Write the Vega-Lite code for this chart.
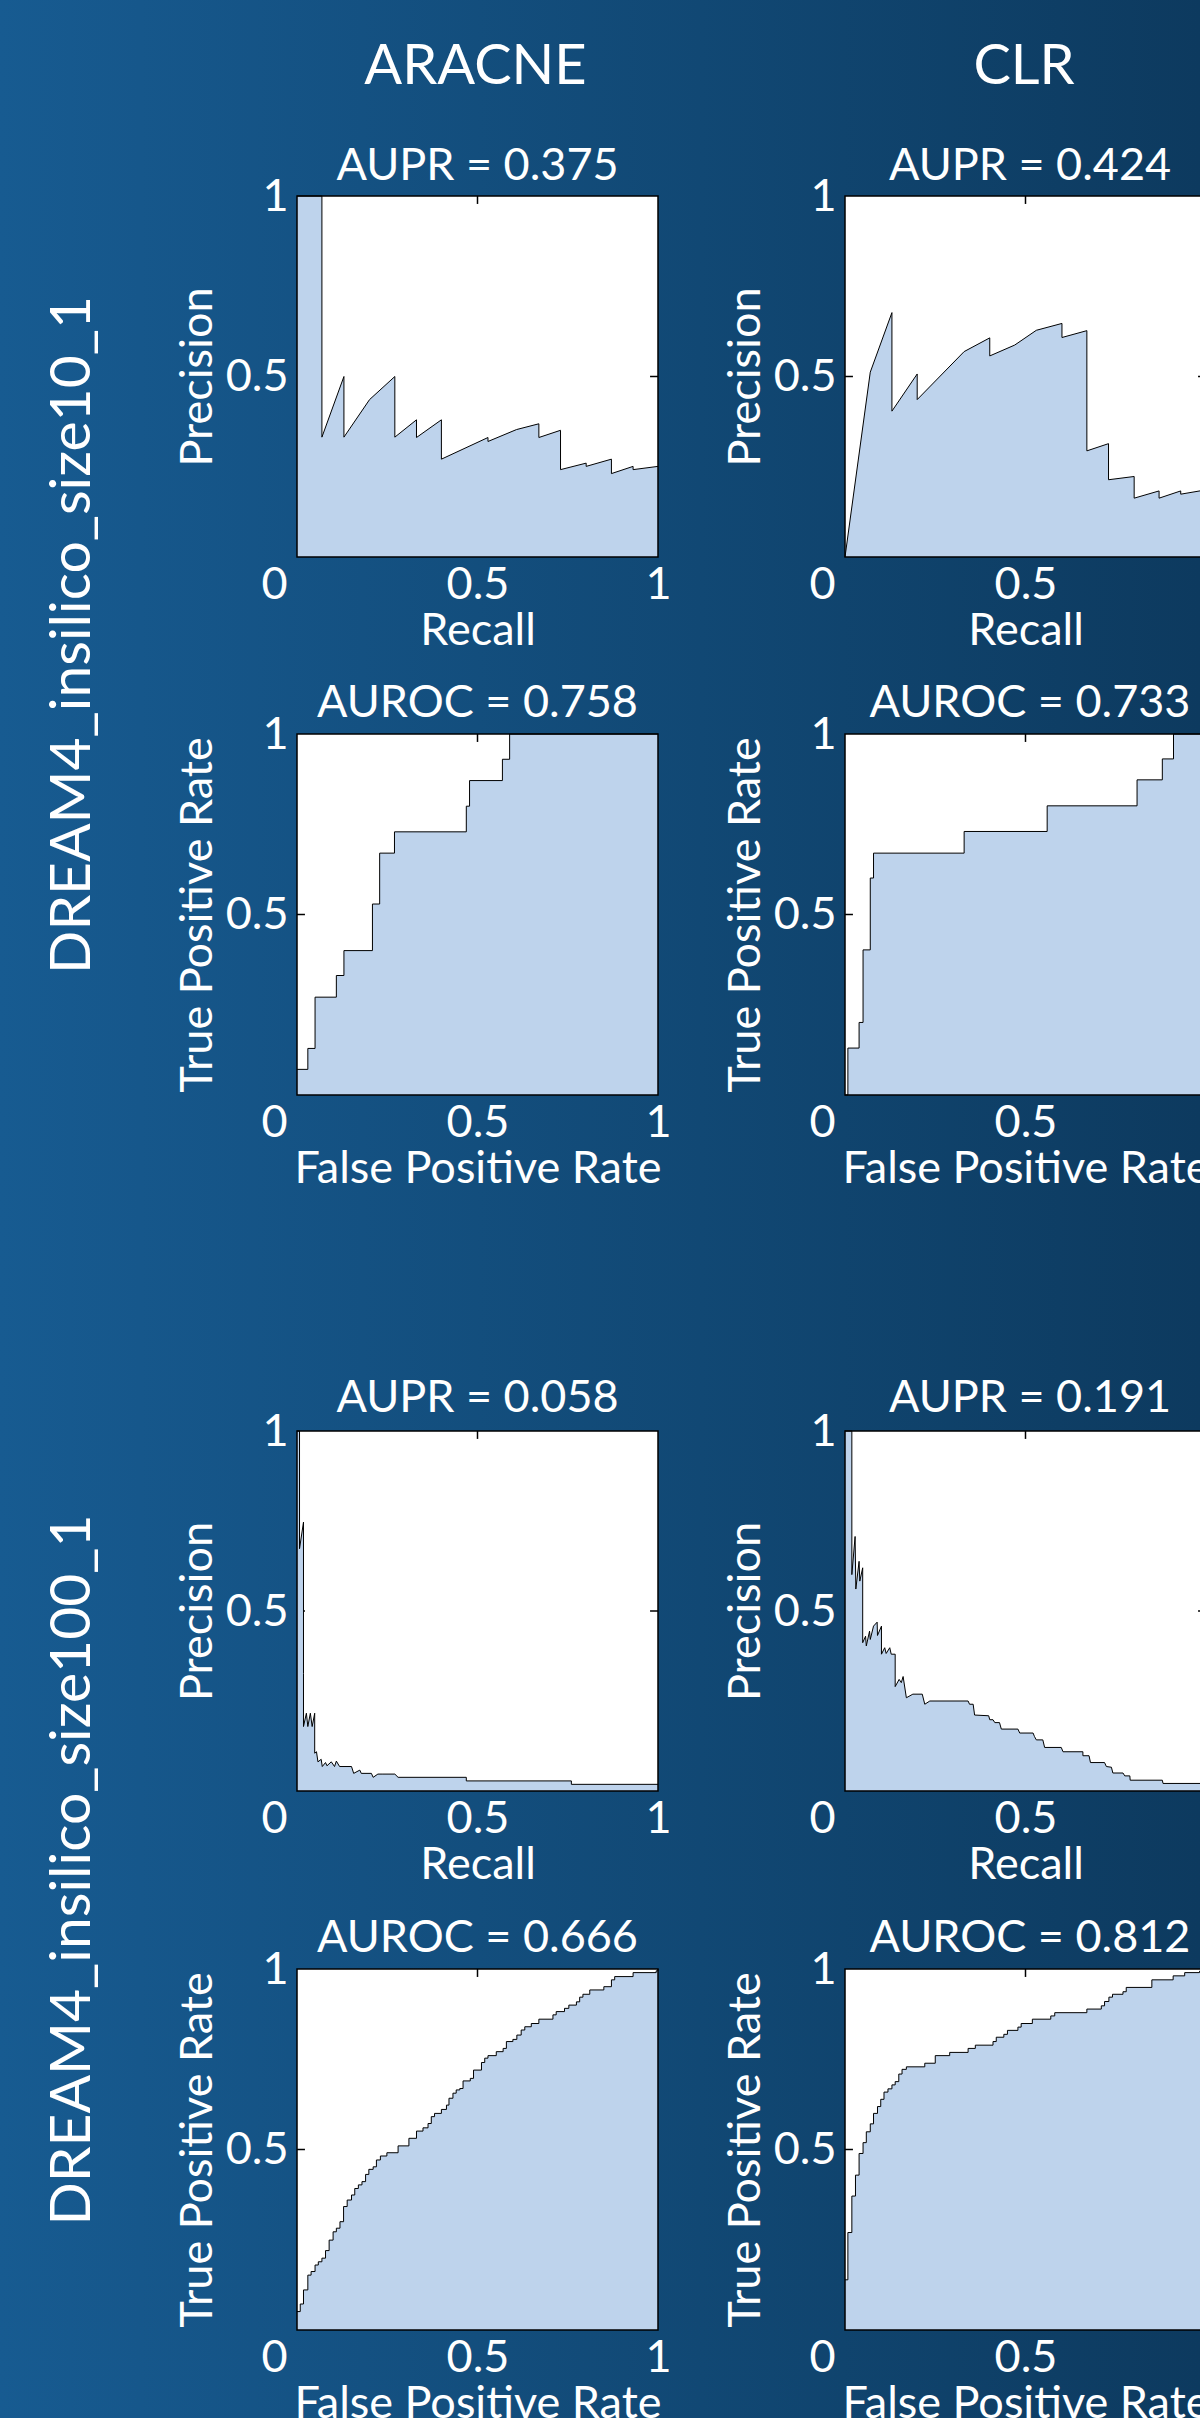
{
"$schema": "https://vega.github.io/schema/vega-lite/v6.json",
"padding": 0,
"background": "#134d7c",
"spacing": 0,
"config": {
  "view": {"stroke": null},
  "concat": {"spacing": 0},
  "font": "Lato",
  "axis": {"domain": false, "ticks": false, "grid": false, "labelFont": "Lato", "labelFontSize": 45, "labelColor": "white", "titleFont": "Lato", "titleFontSize": 45, "titleColor": "white", "titleFontWeight": "normal", "labelFlush": false, "labelOverlap": false, "labelBound": false},
  "title": {"font": "Lato", "fontSize": 45, "fontWeight": "normal", "color": "white", "frame": "group", "anchor": "middle", "baseline": "alphabetic"}
},
"datasets": {
"pr_a1": [{"x":0,"y":1},{"x":0.069,"y":1},{"x":0.069,"y":0.332},{"x":0.13,"y":0.5},{"x":0.13,"y":0.332},{"x":0.201,"y":0.436},{"x":0.271,"y":0.5},{"x":0.271,"y":0.332},{"x":0.331,"y":0.38},{"x":0.331,"y":0.331},{"x":0.4,"y":0.38},{"x":0.4,"y":0.271},{"x":0.529,"y":0.331},{"x":0.529,"y":0.32},{"x":0.608,"y":0.353},{"x":0.67,"y":0.369},{"x":0.67,"y":0.331},{"x":0.73,"y":0.351},{"x":0.73,"y":0.242},{"x":0.801,"y":0.26},{"x":0.801,"y":0.251},{"x":0.871,"y":0.271},{"x":0.871,"y":0.231},{"x":0.931,"y":0.251},{"x":0.931,"y":0.242},{"x":1,"y":0.251}],
"pr_c1": [{"x":0,"y":0},{"x":0.07,"y":0.512},{"x":0.13,"y":0.677},{"x":0.13,"y":0.404},{"x":0.2,"y":0.507},{"x":0.2,"y":0.436},{"x":0.33,"y":0.569},{"x":0.401,"y":0.607},{"x":0.401,"y":0.557},{"x":0.47,"y":0.587},{"x":0.53,"y":0.628},{"x":0.601,"y":0.647},{"x":0.601,"y":0.608},{"x":0.67,"y":0.627},{"x":0.67,"y":0.294},{"x":0.73,"y":0.314},{"x":0.73,"y":0.214},{"x":0.801,"y":0.223},{"x":0.801,"y":0.163},{"x":0.87,"y":0.183},{"x":0.87,"y":0.163},{"x":0.93,"y":0.183},{"x":0.93,"y":0.174},{"x":1,"y":0.186}],
"roc_a1": [{"x":0,"y":0.071},{"x":0.03,"y":0.129},{"x":0.05,"y":0.271},{"x":0.109,"y":0.331},{"x":0.13,"y":0.4},{"x":0.209,"y":0.529},{"x":0.229,"y":0.67},{"x":0.27,"y":0.729},{"x":0.469,"y":0.8},{"x":0.478,"y":0.871},{"x":0.569,"y":0.93},{"x":0.589,"y":1},{"x":1,"y":1}],
"roc_c1": [{"x":0,"y":0},{"x":0.008,"y":0.13},{"x":0.039,"y":0.201},{"x":0.05,"y":0.402},{"x":0.07,"y":0.601},{"x":0.079,"y":0.67},{"x":0.33,"y":0.73},{"x":0.56,"y":0.801},{"x":0.809,"y":0.873},{"x":0.879,"y":0.931},{"x":0.91,"y":1},{"x":1,"y":1}],
"pr_a2": [{"x":0,"y":1},{"x":0.007,"y":1},{"x":0.007,"y":0.673},{"x":0.018,"y":0.747},{"x":0.018,"y":0.327},{"x":0.018,"y":0.179},{"x":0.026,"y":0.216},{"x":0.03,"y":0.179},{"x":0.037,"y":0.216},{"x":0.042,"y":0.179},{"x":0.049,"y":0.216},{"x":0.049,"y":0.105},{"x":0.054,"y":0.109},{"x":0.058,"y":0.081},{"x":0.067,"y":0.088},{"x":0.07,"y":0.068},{"x":0.079,"y":0.079},{"x":0.083,"y":0.07},{"x":0.095,"y":0.081},{"x":0.104,"y":0.068},{"x":0.109,"y":0.083},{"x":0.118,"y":0.068},{"x":0.151,"y":0.068},{"x":0.157,"y":0.049},{"x":0.174,"y":0.058},{"x":0.178,"y":0.049},{"x":0.206,"y":0.049},{"x":0.211,"y":0.038},{"x":0.224,"y":0.047},{"x":0.238,"y":0.047},{"x":0.271,"y":0.047},{"x":0.28,"y":0.038},{"x":0.469,"y":0.038},{"x":0.469,"y":0.028},{"x":0.76,"y":0.028},{"x":0.76,"y":0.0185},{"x":1,"y":0.0185}],
"pr_c2": [{"x":0,"y":1},{"x":0.019,"y":1},{"x":0.019,"y":0.601},{"x":0.028,"y":0.707},{"x":0.03,"y":0.561},{"x":0.039,"y":0.638},{"x":0.041,"y":0.583},{"x":0.049,"y":0.62},{"x":0.049,"y":0.412},{"x":0.057,"y":0.43},{"x":0.059,"y":0.403},{"x":0.068,"y":0.444},{"x":0.07,"y":0.421},{"x":0.079,"y":0.458},{"x":0.089,"y":0.469},{"x":0.09,"y":0.432},{"x":0.101,"y":0.458},{"x":0.101,"y":0.38},{"x":0.11,"y":0.398},{"x":0.114,"y":0.382},{"x":0.124,"y":0.398},{"x":0.128,"y":0.38},{"x":0.139,"y":0.38},{"x":0.139,"y":0.29},{"x":0.15,"y":0.31},{"x":0.156,"y":0.301},{"x":0.161,"y":0.318},{"x":0.17,"y":0.259},{"x":0.188,"y":0.269},{"x":0.214,"y":0.269},{"x":0.221,"y":0.241},{"x":0.235,"y":0.25},{"x":0.341,"y":0.25},{"x":0.345,"y":0.241},{"x":0.355,"y":0.241},{"x":0.359,"y":0.211},{"x":0.398,"y":0.209},{"x":0.401,"y":0.198},{"x":0.41,"y":0.198},{"x":0.415,"y":0.19},{"x":0.428,"y":0.19},{"x":0.433,"y":0.172},{"x":0.479,"y":0.172},{"x":0.484,"y":0.161},{"x":0.521,"y":0.161},{"x":0.525,"y":0.151},{"x":0.53,"y":0.142},{"x":0.548,"y":0.142},{"x":0.553,"y":0.121},{"x":0.599,"y":0.121},{"x":0.604,"y":0.109},{"x":0.659,"y":0.109},{"x":0.659,"y":0.098},{"x":0.676,"y":0.098},{"x":0.68,"y":0.079},{"x":0.719,"y":0.079},{"x":0.724,"y":0.068},{"x":0.738,"y":0.066},{"x":0.742,"y":0.05},{"x":0.77,"y":0.05},{"x":0.775,"y":0.042},{"x":0.789,"y":0.042},{"x":0.79,"y":0.03},{"x":0.879,"y":0.03},{"x":0.881,"y":0.021},{"x":1,"y":0.021}],
"roc_a2": [{"x":0,"y":0.051},{"x":0.009,"y":0.072},{"x":0.018,"y":0.111},{"x":0.03,"y":0.152},{"x":0.039,"y":0.162},{"x":0.05,"y":0.18},{"x":0.059,"y":0.189},{"x":0.069,"y":0.199},{"x":0.079,"y":0.22},{"x":0.089,"y":0.249},{"x":0.1,"y":0.272},{"x":0.109,"y":0.282},{"x":0.119,"y":0.3},{"x":0.129,"y":0.342},{"x":0.139,"y":0.36},{"x":0.151,"y":0.374},{"x":0.16,"y":0.392},{"x":0.17,"y":0.402},{"x":0.18,"y":0.411},{"x":0.19,"y":0.431},{"x":0.199,"y":0.445},{"x":0.211,"y":0.452},{"x":0.22,"y":0.471},{"x":0.231,"y":0.482},{"x":0.249,"y":0.491},{"x":0.28,"y":0.51},{"x":0.31,"y":0.531},{"x":0.331,"y":0.551},{"x":0.349,"y":0.56},{"x":0.363,"y":0.572},{"x":0.372,"y":0.591},{"x":0.381,"y":0.6},{"x":0.4,"y":0.611},{"x":0.414,"y":0.623},{"x":0.421,"y":0.642},{"x":0.432,"y":0.656},{"x":0.441,"y":0.665},{"x":0.451,"y":0.669},{"x":0.46,"y":0.69},{"x":0.48,"y":0.697},{"x":0.489,"y":0.72},{"x":0.511,"y":0.741},{"x":0.52,"y":0.753},{"x":0.529,"y":0.76},{"x":0.552,"y":0.771},{"x":0.571,"y":0.78},{"x":0.58,"y":0.799},{"x":0.598,"y":0.805},{"x":0.609,"y":0.817},{"x":0.621,"y":0.831},{"x":0.631,"y":0.84},{"x":0.649,"y":0.849},{"x":0.67,"y":0.861},{"x":0.709,"y":0.873},{"x":0.718,"y":0.882},{"x":0.741,"y":0.891},{"x":0.753,"y":0.9},{"x":0.774,"y":0.909},{"x":0.783,"y":0.922},{"x":0.792,"y":0.93},{"x":0.811,"y":0.942},{"x":0.85,"y":0.951},{"x":0.871,"y":0.97},{"x":0.88,"y":0.979},{"x":0.931,"y":0.99},{"x":0.995,"y":0.995},{"x":1,"y":1}],
"roc_c2": [{"x":0,"y":0.139},{"x":0.008,"y":0.27},{"x":0.019,"y":0.371},{"x":0.029,"y":0.429},{"x":0.039,"y":0.489},{"x":0.05,"y":0.519},{"x":0.059,"y":0.549},{"x":0.07,"y":0.571},{"x":0.079,"y":0.6},{"x":0.09,"y":0.619},{"x":0.099,"y":0.639},{"x":0.108,"y":0.659},{"x":0.119,"y":0.668},{"x":0.13,"y":0.679},{"x":0.139,"y":0.688},{"x":0.149,"y":0.709},{"x":0.158,"y":0.722},{"x":0.17,"y":0.729},{"x":0.221,"y":0.739},{"x":0.25,"y":0.76},{"x":0.29,"y":0.769},{"x":0.341,"y":0.78},{"x":0.361,"y":0.789},{"x":0.41,"y":0.799},{"x":0.419,"y":0.811},{"x":0.44,"y":0.819},{"x":0.45,"y":0.83},{"x":0.479,"y":0.839},{"x":0.488,"y":0.849},{"x":0.519,"y":0.861},{"x":0.57,"y":0.87},{"x":0.581,"y":0.879},{"x":0.67,"y":0.889},{"x":0.71,"y":0.898},{"x":0.719,"y":0.91},{"x":0.731,"y":0.922},{"x":0.741,"y":0.93},{"x":0.77,"y":0.937},{"x":0.779,"y":0.949},{"x":0.85,"y":0.97},{"x":0.909,"y":0.981},{"x":0.941,"y":0.99},{"x":0.982,"y":0.994},{"x":1,"y":0.995}]
},
"hconcat": [
{"spacing": 0, "vconcat": [
  {"width": 140, "height": 1270, "view": {"stroke": null, "fill": {"gradient": "linear", "stops": [{"offset": 0, "color": "#175b91"}, {"offset": 1, "color": "#16578b"}]}},
   "title": {"text": "DREAM4_insilico_size10_1", "orient": "left", "fontSize": 57, "offset": -102},
   "data": {"values": []}, "mark": "point"},
  {"width": 140, "height": 52, "view": {"stroke": null, "fill": {"gradient": "linear", "stops": [{"offset": 0, "color": "#175b91"}, {"offset": 1, "color": "#16578b"}]}},
   "data": {"values": []}, "mark": "point"},
  {"width": 140, "height": 1096, "view": {"stroke": null, "fill": {"gradient": "linear", "stops": [{"offset": 0, "color": "#175b91"}, {"offset": 1, "color": "#16578b"}]}},
   "title": {"text": "DREAM4_insilico_size100_1", "orient": "left", "fontSize": 57, "offset": -102},
   "data": {"values": []}, "mark": "point"}
]},
{"spacing": 0, "vconcat": [
  {"width": 560, "height": 120, "view": {"stroke": null, "fill": {"gradient": "linear", "stops": [{"offset": 0, "color": "#16578b"}, {"offset": 1, "color": "#114874"}]}},
   "title": {"text": "ARACNE", "fontSize": 56, "offset": -96, "dx": 55.5},
   "data": {"values": []}, "mark": "point"},
  {"width": 560, "height": 545, "view": {"stroke": null, "fill": {"gradient": "linear", "stops": [{"offset": 0, "color": "#16578b"}, {"offset": 1, "color": "#114874"}]}},
   "title": {"text": "AUPR = 0.375", "offset": -69, "dx": 57.5},
   "layer": [
    {"data": {"values": [{}]}, "mark": {"type": "rect", "fill": "white"}, "encoding": {"x": {"datum": 0, "type": "quantitative", "scale": {"domain": [0,1], "range": [157,518], "nice": false, "zero": false}}, "x2": {"datum": 1}, "y": {"datum": 0, "type": "quantitative", "scale": {"domain": [0,1], "range": [437,76], "nice": false, "zero": false}}, "y2": {"datum": 1}}},
    {"data": {"values": [{}]}, "mark": {"type": "rule", "color": "black", "strokeWidth": 1.5}, "encoding": {"x": {"datum": 0.5, "type": "quantitative", "scale": {"domain": [0,1], "range": [157,518], "nice": false, "zero": false}}, "y": {"datum": 1, "type": "quantitative", "scale": {"domain": [0,1], "range": [437,76], "nice": false, "zero": false}}, "y2": {"datum": 0.978}}},
    {"data": {"values": [{}]}, "mark": {"type": "rule", "color": "black", "strokeWidth": 1.5}, "encoding": {"x": {"datum": 0.5, "type": "quantitative", "scale": {"domain": [0,1], "range": [157,518], "nice": false, "zero": false}}, "y": {"datum": 0, "type": "quantitative", "scale": {"domain": [0,1], "range": [437,76], "nice": false, "zero": false}}, "y2": {"datum": 0.022}}},
    {"data": {"values": [{}]}, "mark": {"type": "rule", "color": "black", "strokeWidth": 1.5}, "encoding": {"x": {"datum": 0, "type": "quantitative", "scale": {"domain": [0,1], "range": [157,518], "nice": false, "zero": false}}, "x2": {"datum": 0.022}, "y": {"datum": 0.5, "type": "quantitative", "scale": {"domain": [0,1], "range": [437,76], "nice": false, "zero": false}}}},
    {"data": {"values": [{}]}, "mark": {"type": "rule", "color": "black", "strokeWidth": 1.5}, "encoding": {"x": {"datum": 1, "type": "quantitative", "scale": {"domain": [0,1], "range": [157,518], "nice": false, "zero": false}}, "x2": {"datum": 0.978}, "y": {"datum": 0.5, "type": "quantitative", "scale": {"domain": [0,1], "range": [437,76], "nice": false, "zero": false}}}},
    {"data": {"name": "pr_a1"}, "mark": {"type": "area", "color": "#bed3ec", "opacity": 1, "interpolate": "linear"}, "encoding": {"x": {"field": "x", "type": "quantitative", "scale": {"domain": [0,1], "range": [157,518], "nice": false, "zero": false}, "axis": {"orient": "bottom", "offset": -108, "values": [0,0.5,1], "format": "~g", "labelPadding": 5, "title": "Recall", "titlePadding": 1, "labelAlign": {"condition": {"test": "datum.value == 0", "value": "right"}, "value": "center"}, "labelOffset": {"condition": {"test": "datum.value == 0", "value": -10}, "value": 0}}}, "y": {"field": "y", "type": "quantitative", "stack": null, "scale": {"domain": [0,1], "range": [437,76], "nice": false, "zero": false}, "axis": {"orient": "left", "offset": -157, "values": [0.5,1], "format": "~g", "labelPadding": 9, "title": "Precision", "titlePadding": 5}}, "order": {"value": null}}},
    {"data": {"name": "pr_a1"}, "mark": {"type": "line", "color": "black", "strokeWidth": 1, "interpolate": "linear"}, "encoding": {"x": {"field": "x", "type": "quantitative", "scale": {"domain": [0,1], "range": [157,518], "nice": false, "zero": false}}, "y": {"field": "y", "type": "quantitative", "scale": {"domain": [0,1], "range": [437,76], "nice": false, "zero": false}}, "order": {"value": null}}},
    {"data": {"values": [{}]}, "mark": {"type": "rect", "fill": null, "stroke": "black", "strokeWidth": 1.5}, "encoding": {"x": {"datum": 0, "type": "quantitative", "scale": {"domain": [0,1], "range": [157,518], "nice": false, "zero": false}}, "x2": {"datum": 1}, "y": {"datum": 0, "type": "quantitative", "scale": {"domain": [0,1], "range": [437,76], "nice": false, "zero": false}}, "y2": {"datum": 1}}}
   ]},
  {"width": 560, "height": 635, "view": {"stroke": null, "fill": {"gradient": "linear", "stops": [{"offset": 0, "color": "#16578b"}, {"offset": 1, "color": "#114874"}]}},
   "title": {"text": "AUROC = 0.758", "offset": -61, "dx": 57.5},
   "layer": [
    {"data": {"values": [{}]}, "mark": {"type": "rect", "fill": "white"}, "encoding": {"x": {"datum": 0, "type": "quantitative", "scale": {"domain": [0,1], "range": [157,518], "nice": false, "zero": false}}, "x2": {"datum": 1}, "y": {"datum": 0, "type": "quantitative", "scale": {"domain": [0,1], "range": [430,69], "nice": false, "zero": false}}, "y2": {"datum": 1}}},
    {"data": {"values": [{}]}, "mark": {"type": "rule", "color": "black", "strokeWidth": 1.5}, "encoding": {"x": {"datum": 0.5, "type": "quantitative", "scale": {"domain": [0,1], "range": [157,518], "nice": false, "zero": false}}, "y": {"datum": 1, "type": "quantitative", "scale": {"domain": [0,1], "range": [430,69], "nice": false, "zero": false}}, "y2": {"datum": 0.978}}},
    {"data": {"values": [{}]}, "mark": {"type": "rule", "color": "black", "strokeWidth": 1.5}, "encoding": {"x": {"datum": 0.5, "type": "quantitative", "scale": {"domain": [0,1], "range": [157,518], "nice": false, "zero": false}}, "y": {"datum": 0, "type": "quantitative", "scale": {"domain": [0,1], "range": [430,69], "nice": false, "zero": false}}, "y2": {"datum": 0.022}}},
    {"data": {"values": [{}]}, "mark": {"type": "rule", "color": "black", "strokeWidth": 1.5}, "encoding": {"x": {"datum": 0, "type": "quantitative", "scale": {"domain": [0,1], "range": [157,518], "nice": false, "zero": false}}, "x2": {"datum": 0.022}, "y": {"datum": 0.5, "type": "quantitative", "scale": {"domain": [0,1], "range": [430,69], "nice": false, "zero": false}}}},
    {"data": {"values": [{}]}, "mark": {"type": "rule", "color": "black", "strokeWidth": 1.5}, "encoding": {"x": {"datum": 1, "type": "quantitative", "scale": {"domain": [0,1], "range": [157,518], "nice": false, "zero": false}}, "x2": {"datum": 0.978}, "y": {"datum": 0.5, "type": "quantitative", "scale": {"domain": [0,1], "range": [430,69], "nice": false, "zero": false}}}},
    {"data": {"name": "roc_a1"}, "mark": {"type": "area", "color": "#bed3ec", "opacity": 1, "interpolate": "step-after"}, "encoding": {"x": {"field": "x", "type": "quantitative", "scale": {"domain": [0,1], "range": [157,518], "nice": false, "zero": false}, "axis": {"orient": "bottom", "offset": -205, "values": [0,0.5,1], "format": "~g", "labelPadding": 5, "title": "False Positive Rate", "titlePadding": 1, "labelAlign": {"condition": {"test": "datum.value == 0", "value": "right"}, "value": "center"}, "labelOffset": {"condition": {"test": "datum.value == 0", "value": -10}, "value": 0}}}, "y": {"field": "y", "type": "quantitative", "stack": null, "scale": {"domain": [0,1], "range": [430,69], "nice": false, "zero": false}, "axis": {"orient": "left", "offset": -157, "values": [0.5,1], "format": "~g", "labelPadding": 9, "title": "True Positive Rate", "titlePadding": 5}}, "order": {"value": null}}},
    {"data": {"name": "roc_a1"}, "mark": {"type": "line", "color": "black", "strokeWidth": 1, "interpolate": "step-after"}, "encoding": {"x": {"field": "x", "type": "quantitative", "scale": {"domain": [0,1], "range": [157,518], "nice": false, "zero": false}}, "y": {"field": "y", "type": "quantitative", "scale": {"domain": [0,1], "range": [430,69], "nice": false, "zero": false}}, "order": {"value": null}}},
    {"data": {"values": [{}]}, "mark": {"type": "rect", "fill": null, "stroke": "black", "strokeWidth": 1.5}, "encoding": {"x": {"datum": 0, "type": "quantitative", "scale": {"domain": [0,1], "range": [157,518], "nice": false, "zero": false}}, "x2": {"datum": 1}, "y": {"datum": 0, "type": "quantitative", "scale": {"domain": [0,1], "range": [430,69], "nice": false, "zero": false}}, "y2": {"datum": 1}}}
   ]},
  {"width": 560, "height": 598, "view": {"stroke": null, "fill": {"gradient": "linear", "stops": [{"offset": 0, "color": "#16578b"}, {"offset": 1, "color": "#114874"}]}},
   "title": {"text": "AUPR = 0.058", "offset": -121, "dx": 57.5},
   "layer": [
    {"data": {"values": [{}]}, "mark": {"type": "rect", "fill": "white"}, "encoding": {"x": {"datum": 0, "type": "quantitative", "scale": {"domain": [0,1], "range": [157,518], "nice": false, "zero": false}}, "x2": {"datum": 1}, "y": {"datum": 0, "type": "quantitative", "scale": {"domain": [0,1], "range": [491,131], "nice": false, "zero": false}}, "y2": {"datum": 1}}},
    {"data": {"values": [{}]}, "mark": {"type": "rule", "color": "black", "strokeWidth": 1.5}, "encoding": {"x": {"datum": 0.5, "type": "quantitative", "scale": {"domain": [0,1], "range": [157,518], "nice": false, "zero": false}}, "y": {"datum": 1, "type": "quantitative", "scale": {"domain": [0,1], "range": [491,131], "nice": false, "zero": false}}, "y2": {"datum": 0.978}}},
    {"data": {"values": [{}]}, "mark": {"type": "rule", "color": "black", "strokeWidth": 1.5}, "encoding": {"x": {"datum": 0.5, "type": "quantitative", "scale": {"domain": [0,1], "range": [157,518], "nice": false, "zero": false}}, "y": {"datum": 0, "type": "quantitative", "scale": {"domain": [0,1], "range": [491,131], "nice": false, "zero": false}}, "y2": {"datum": 0.022}}},
    {"data": {"values": [{}]}, "mark": {"type": "rule", "color": "black", "strokeWidth": 1.5}, "encoding": {"x": {"datum": 0, "type": "quantitative", "scale": {"domain": [0,1], "range": [157,518], "nice": false, "zero": false}}, "x2": {"datum": 0.022}, "y": {"datum": 0.5, "type": "quantitative", "scale": {"domain": [0,1], "range": [491,131], "nice": false, "zero": false}}}},
    {"data": {"values": [{}]}, "mark": {"type": "rule", "color": "black", "strokeWidth": 1.5}, "encoding": {"x": {"datum": 1, "type": "quantitative", "scale": {"domain": [0,1], "range": [157,518], "nice": false, "zero": false}}, "x2": {"datum": 0.978}, "y": {"datum": 0.5, "type": "quantitative", "scale": {"domain": [0,1], "range": [491,131], "nice": false, "zero": false}}}},
    {"data": {"name": "pr_a2"}, "mark": {"type": "area", "color": "#bed3ec", "opacity": 1, "interpolate": "linear"}, "encoding": {"x": {"field": "x", "type": "quantitative", "scale": {"domain": [0,1], "range": [157,518], "nice": false, "zero": false}, "axis": {"orient": "bottom", "offset": -107, "values": [0,0.5,1], "format": "~g", "labelPadding": 5, "title": "Recall", "titlePadding": 1, "labelAlign": {"condition": {"test": "datum.value == 0", "value": "right"}, "value": "center"}, "labelOffset": {"condition": {"test": "datum.value == 0", "value": -10}, "value": 0}}}, "y": {"field": "y", "type": "quantitative", "stack": null, "scale": {"domain": [0,1], "range": [491,131], "nice": false, "zero": false}, "axis": {"orient": "left", "offset": -157, "values": [0.5,1], "format": "~g", "labelPadding": 9, "title": "Precision", "titlePadding": 5}}, "order": {"value": null}}},
    {"data": {"name": "pr_a2"}, "mark": {"type": "line", "color": "black", "strokeWidth": 1, "interpolate": "linear"}, "encoding": {"x": {"field": "x", "type": "quantitative", "scale": {"domain": [0,1], "range": [157,518], "nice": false, "zero": false}}, "y": {"field": "y", "type": "quantitative", "scale": {"domain": [0,1], "range": [491,131], "nice": false, "zero": false}}, "order": {"value": null}}},
    {"data": {"values": [{}]}, "mark": {"type": "rect", "fill": null, "stroke": "black", "strokeWidth": 1.5}, "encoding": {"x": {"datum": 0, "type": "quantitative", "scale": {"domain": [0,1], "range": [157,518], "nice": false, "zero": false}}, "x2": {"datum": 1}, "y": {"datum": 0, "type": "quantitative", "scale": {"domain": [0,1], "range": [491,131], "nice": false, "zero": false}}, "y2": {"datum": 1}}}
   ]},
  {"width": 560, "height": 520, "view": {"stroke": null, "fill": {"gradient": "linear", "stops": [{"offset": 0, "color": "#16578b"}, {"offset": 1, "color": "#114874"}]}},
   "title": {"text": "AUROC = 0.666", "offset": -63, "dx": 57.5},
   "layer": [
    {"data": {"values": [{}]}, "mark": {"type": "rect", "fill": "white"}, "encoding": {"x": {"datum": 0, "type": "quantitative", "scale": {"domain": [0,1], "range": [157,518], "nice": false, "zero": false}}, "x2": {"datum": 1}, "y": {"datum": 0, "type": "quantitative", "scale": {"domain": [0,1], "range": [432,71], "nice": false, "zero": false}}, "y2": {"datum": 1}}},
    {"data": {"values": [{}]}, "mark": {"type": "rule", "color": "black", "strokeWidth": 1.5}, "encoding": {"x": {"datum": 0.5, "type": "quantitative", "scale": {"domain": [0,1], "range": [157,518], "nice": false, "zero": false}}, "y": {"datum": 1, "type": "quantitative", "scale": {"domain": [0,1], "range": [432,71], "nice": false, "zero": false}}, "y2": {"datum": 0.978}}},
    {"data": {"values": [{}]}, "mark": {"type": "rule", "color": "black", "strokeWidth": 1.5}, "encoding": {"x": {"datum": 0.5, "type": "quantitative", "scale": {"domain": [0,1], "range": [157,518], "nice": false, "zero": false}}, "y": {"datum": 0, "type": "quantitative", "scale": {"domain": [0,1], "range": [432,71], "nice": false, "zero": false}}, "y2": {"datum": 0.022}}},
    {"data": {"values": [{}]}, "mark": {"type": "rule", "color": "black", "strokeWidth": 1.5}, "encoding": {"x": {"datum": 0, "type": "quantitative", "scale": {"domain": [0,1], "range": [157,518], "nice": false, "zero": false}}, "x2": {"datum": 0.022}, "y": {"datum": 0.5, "type": "quantitative", "scale": {"domain": [0,1], "range": [432,71], "nice": false, "zero": false}}}},
    {"data": {"values": [{}]}, "mark": {"type": "rule", "color": "black", "strokeWidth": 1.5}, "encoding": {"x": {"datum": 1, "type": "quantitative", "scale": {"domain": [0,1], "range": [157,518], "nice": false, "zero": false}}, "x2": {"datum": 0.978}, "y": {"datum": 0.5, "type": "quantitative", "scale": {"domain": [0,1], "range": [432,71], "nice": false, "zero": false}}}},
    {"data": {"name": "roc_a2"}, "mark": {"type": "area", "color": "#bed3ec", "opacity": 1, "interpolate": "step-after"}, "encoding": {"x": {"field": "x", "type": "quantitative", "scale": {"domain": [0,1], "range": [157,518], "nice": false, "zero": false}, "axis": {"orient": "bottom", "offset": -88, "values": [0,0.5,1], "format": "~g", "labelPadding": 5, "title": "False Positive Rate", "titlePadding": 1, "labelAlign": {"condition": {"test": "datum.value == 0", "value": "right"}, "value": "center"}, "labelOffset": {"condition": {"test": "datum.value == 0", "value": -10}, "value": 0}}}, "y": {"field": "y", "type": "quantitative", "stack": null, "scale": {"domain": [0,1], "range": [432,71], "nice": false, "zero": false}, "axis": {"orient": "left", "offset": -157, "values": [0.5,1], "format": "~g", "labelPadding": 9, "title": "True Positive Rate", "titlePadding": 5}}, "order": {"value": null}}},
    {"data": {"name": "roc_a2"}, "mark": {"type": "line", "color": "black", "strokeWidth": 1, "interpolate": "step-after"}, "encoding": {"x": {"field": "x", "type": "quantitative", "scale": {"domain": [0,1], "range": [157,518], "nice": false, "zero": false}}, "y": {"field": "y", "type": "quantitative", "scale": {"domain": [0,1], "range": [432,71], "nice": false, "zero": false}}, "order": {"value": null}}},
    {"data": {"values": [{}]}, "mark": {"type": "rect", "fill": null, "stroke": "black", "strokeWidth": 1.5}, "encoding": {"x": {"datum": 0, "type": "quantitative", "scale": {"domain": [0,1], "range": [157,518], "nice": false, "zero": false}}, "x2": {"datum": 1}, "y": {"datum": 0, "type": "quantitative", "scale": {"domain": [0,1], "range": [432,71], "nice": false, "zero": false}}, "y2": {"datum": 1}}}
   ]}
]},
{"spacing": 0, "vconcat": [
  {"width": 500, "height": 120, "view": {"stroke": null, "fill": {"gradient": "linear", "stops": [{"offset": 0, "color": "#114874"}, {"offset": 1, "color": "#0d3a5f"}]}},
   "title": {"text": "CLR", "fontSize": 56, "offset": -96, "dx": 74},
   "data": {"values": []}, "mark": "point"},
  {"width": 500, "height": 545, "view": {"stroke": null, "fill": {"gradient": "linear", "stops": [{"offset": 0, "color": "#114874"}, {"offset": 1, "color": "#0d3a5f"}]}},
   "title": {"text": "AUPR = 0.424", "offset": -69, "dx": 80},
   "layer": [
    {"data": {"values": [{}]}, "mark": {"type": "rect", "fill": "white", "clip": true}, "encoding": {"x": {"datum": 0, "type": "quantitative", "scale": {"domain": [0,1], "range": [145,506], "nice": false, "zero": false}}, "x2": {"datum": 1}, "y": {"datum": 0, "type": "quantitative", "scale": {"domain": [0,1], "range": [437,76], "nice": false, "zero": false}}, "y2": {"datum": 1}}},
    {"data": {"values": [{}]}, "mark": {"type": "rule", "color": "black", "strokeWidth": 1.5, "clip": true}, "encoding": {"x": {"datum": 0.5, "type": "quantitative", "scale": {"domain": [0,1], "range": [145,506], "nice": false, "zero": false}}, "y": {"datum": 1, "type": "quantitative", "scale": {"domain": [0,1], "range": [437,76], "nice": false, "zero": false}}, "y2": {"datum": 0.978}}},
    {"data": {"values": [{}]}, "mark": {"type": "rule", "color": "black", "strokeWidth": 1.5, "clip": true}, "encoding": {"x": {"datum": 0.5, "type": "quantitative", "scale": {"domain": [0,1], "range": [145,506], "nice": false, "zero": false}}, "y": {"datum": 0, "type": "quantitative", "scale": {"domain": [0,1], "range": [437,76], "nice": false, "zero": false}}, "y2": {"datum": 0.022}}},
    {"data": {"values": [{}]}, "mark": {"type": "rule", "color": "black", "strokeWidth": 1.5, "clip": true}, "encoding": {"x": {"datum": 0, "type": "quantitative", "scale": {"domain": [0,1], "range": [145,506], "nice": false, "zero": false}}, "x2": {"datum": 0.022}, "y": {"datum": 0.5, "type": "quantitative", "scale": {"domain": [0,1], "range": [437,76], "nice": false, "zero": false}}}},
    {"data": {"values": [{}]}, "mark": {"type": "rule", "color": "black", "strokeWidth": 1.5, "clip": true}, "encoding": {"x": {"datum": 1, "type": "quantitative", "scale": {"domain": [0,1], "range": [145,506], "nice": false, "zero": false}}, "x2": {"datum": 0.978}, "y": {"datum": 0.5, "type": "quantitative", "scale": {"domain": [0,1], "range": [437,76], "nice": false, "zero": false}}}},
    {"data": {"name": "pr_c1"}, "mark": {"type": "area", "color": "#bed3ec", "opacity": 1, "interpolate": "linear", "clip": true}, "encoding": {"x": {"field": "x", "type": "quantitative", "scale": {"domain": [0,1], "range": [145,506], "nice": false, "zero": false}, "axis": {"orient": "bottom", "offset": -108, "values": [0,0.5], "format": "~g", "labelPadding": 5, "title": "Recall", "titlePadding": 1, "labelAlign": {"condition": {"test": "datum.value == 0", "value": "right"}, "value": "center"}, "labelOffset": {"condition": {"test": "datum.value == 0", "value": -10}, "value": 0}}}, "y": {"field": "y", "type": "quantitative", "stack": null, "scale": {"domain": [0,1], "range": [437,76], "nice": false, "zero": false}, "axis": {"orient": "left", "offset": -145, "values": [0.5,1], "format": "~g", "labelPadding": 9, "title": "Precision", "titlePadding": 5}}, "order": {"value": null}}},
    {"data": {"name": "pr_c1"}, "mark": {"type": "line", "color": "black", "strokeWidth": 1, "interpolate": "linear", "clip": true}, "encoding": {"x": {"field": "x", "type": "quantitative", "scale": {"domain": [0,1], "range": [145,506], "nice": false, "zero": false}}, "y": {"field": "y", "type": "quantitative", "scale": {"domain": [0,1], "range": [437,76], "nice": false, "zero": false}}, "order": {"value": null}}},
    {"data": {"values": [{}]}, "mark": {"type": "rect", "fill": null, "stroke": "black", "strokeWidth": 1.5, "clip": true}, "encoding": {"x": {"datum": 0, "type": "quantitative", "scale": {"domain": [0,1], "range": [145,506], "nice": false, "zero": false}}, "x2": {"datum": 1}, "y": {"datum": 0, "type": "quantitative", "scale": {"domain": [0,1], "range": [437,76], "nice": false, "zero": false}}, "y2": {"datum": 1}}}
   ]},
  {"width": 500, "height": 635, "view": {"stroke": null, "fill": {"gradient": "linear", "stops": [{"offset": 0, "color": "#114874"}, {"offset": 1, "color": "#0d3a5f"}]}},
   "title": {"text": "AUROC = 0.733", "offset": -61, "dx": 80},
   "layer": [
    {"data": {"values": [{}]}, "mark": {"type": "rect", "fill": "white", "clip": true}, "encoding": {"x": {"datum": 0, "type": "quantitative", "scale": {"domain": [0,1], "range": [145,506], "nice": false, "zero": false}}, "x2": {"datum": 1}, "y": {"datum": 0, "type": "quantitative", "scale": {"domain": [0,1], "range": [430,69], "nice": false, "zero": false}}, "y2": {"datum": 1}}},
    {"data": {"values": [{}]}, "mark": {"type": "rule", "color": "black", "strokeWidth": 1.5, "clip": true}, "encoding": {"x": {"datum": 0.5, "type": "quantitative", "scale": {"domain": [0,1], "range": [145,506], "nice": false, "zero": false}}, "y": {"datum": 1, "type": "quantitative", "scale": {"domain": [0,1], "range": [430,69], "nice": false, "zero": false}}, "y2": {"datum": 0.978}}},
    {"data": {"values": [{}]}, "mark": {"type": "rule", "color": "black", "strokeWidth": 1.5, "clip": true}, "encoding": {"x": {"datum": 0.5, "type": "quantitative", "scale": {"domain": [0,1], "range": [145,506], "nice": false, "zero": false}}, "y": {"datum": 0, "type": "quantitative", "scale": {"domain": [0,1], "range": [430,69], "nice": false, "zero": false}}, "y2": {"datum": 0.022}}},
    {"data": {"values": [{}]}, "mark": {"type": "rule", "color": "black", "strokeWidth": 1.5, "clip": true}, "encoding": {"x": {"datum": 0, "type": "quantitative", "scale": {"domain": [0,1], "range": [145,506], "nice": false, "zero": false}}, "x2": {"datum": 0.022}, "y": {"datum": 0.5, "type": "quantitative", "scale": {"domain": [0,1], "range": [430,69], "nice": false, "zero": false}}}},
    {"data": {"values": [{}]}, "mark": {"type": "rule", "color": "black", "strokeWidth": 1.5, "clip": true}, "encoding": {"x": {"datum": 1, "type": "quantitative", "scale": {"domain": [0,1], "range": [145,506], "nice": false, "zero": false}}, "x2": {"datum": 0.978}, "y": {"datum": 0.5, "type": "quantitative", "scale": {"domain": [0,1], "range": [430,69], "nice": false, "zero": false}}}},
    {"data": {"name": "roc_c1"}, "mark": {"type": "area", "color": "#bed3ec", "opacity": 1, "interpolate": "step-after", "clip": true}, "encoding": {"x": {"field": "x", "type": "quantitative", "scale": {"domain": [0,1], "range": [145,506], "nice": false, "zero": false}, "axis": {"orient": "bottom", "offset": -205, "values": [0,0.5], "format": "~g", "labelPadding": 5, "title": "False Positive Rate", "titlePadding": 1, "labelAlign": {"condition": {"test": "datum.value == 0", "value": "right"}, "value": "center"}, "labelOffset": {"condition": {"test": "datum.value == 0", "value": -10}, "value": 0}}}, "y": {"field": "y", "type": "quantitative", "stack": null, "scale": {"domain": [0,1], "range": [430,69], "nice": false, "zero": false}, "axis": {"orient": "left", "offset": -145, "values": [0.5,1], "format": "~g", "labelPadding": 9, "title": "True Positive Rate", "titlePadding": 5}}, "order": {"value": null}}},
    {"data": {"name": "roc_c1"}, "mark": {"type": "line", "color": "black", "strokeWidth": 1, "interpolate": "step-after", "clip": true}, "encoding": {"x": {"field": "x", "type": "quantitative", "scale": {"domain": [0,1], "range": [145,506], "nice": false, "zero": false}}, "y": {"field": "y", "type": "quantitative", "scale": {"domain": [0,1], "range": [430,69], "nice": false, "zero": false}}, "order": {"value": null}}},
    {"data": {"values": [{}]}, "mark": {"type": "rect", "fill": null, "stroke": "black", "strokeWidth": 1.5, "clip": true}, "encoding": {"x": {"datum": 0, "type": "quantitative", "scale": {"domain": [0,1], "range": [145,506], "nice": false, "zero": false}}, "x2": {"datum": 1}, "y": {"datum": 0, "type": "quantitative", "scale": {"domain": [0,1], "range": [430,69], "nice": false, "zero": false}}, "y2": {"datum": 1}}}
   ]},
  {"width": 500, "height": 598, "view": {"stroke": null, "fill": {"gradient": "linear", "stops": [{"offset": 0, "color": "#114874"}, {"offset": 1, "color": "#0d3a5f"}]}},
   "title": {"text": "AUPR = 0.191", "offset": -121, "dx": 80},
   "layer": [
    {"data": {"values": [{}]}, "mark": {"type": "rect", "fill": "white", "clip": true}, "encoding": {"x": {"datum": 0, "type": "quantitative", "scale": {"domain": [0,1], "range": [145,506], "nice": false, "zero": false}}, "x2": {"datum": 1}, "y": {"datum": 0, "type": "quantitative", "scale": {"domain": [0,1], "range": [491,131], "nice": false, "zero": false}}, "y2": {"datum": 1}}},
    {"data": {"values": [{}]}, "mark": {"type": "rule", "color": "black", "strokeWidth": 1.5, "clip": true}, "encoding": {"x": {"datum": 0.5, "type": "quantitative", "scale": {"domain": [0,1], "range": [145,506], "nice": false, "zero": false}}, "y": {"datum": 1, "type": "quantitative", "scale": {"domain": [0,1], "range": [491,131], "nice": false, "zero": false}}, "y2": {"datum": 0.978}}},
    {"data": {"values": [{}]}, "mark": {"type": "rule", "color": "black", "strokeWidth": 1.5, "clip": true}, "encoding": {"x": {"datum": 0.5, "type": "quantitative", "scale": {"domain": [0,1], "range": [145,506], "nice": false, "zero": false}}, "y": {"datum": 0, "type": "quantitative", "scale": {"domain": [0,1], "range": [491,131], "nice": false, "zero": false}}, "y2": {"datum": 0.022}}},
    {"data": {"values": [{}]}, "mark": {"type": "rule", "color": "black", "strokeWidth": 1.5, "clip": true}, "encoding": {"x": {"datum": 0, "type": "quantitative", "scale": {"domain": [0,1], "range": [145,506], "nice": false, "zero": false}}, "x2": {"datum": 0.022}, "y": {"datum": 0.5, "type": "quantitative", "scale": {"domain": [0,1], "range": [491,131], "nice": false, "zero": false}}}},
    {"data": {"values": [{}]}, "mark": {"type": "rule", "color": "black", "strokeWidth": 1.5, "clip": true}, "encoding": {"x": {"datum": 1, "type": "quantitative", "scale": {"domain": [0,1], "range": [145,506], "nice": false, "zero": false}}, "x2": {"datum": 0.978}, "y": {"datum": 0.5, "type": "quantitative", "scale": {"domain": [0,1], "range": [491,131], "nice": false, "zero": false}}}},
    {"data": {"name": "pr_c2"}, "mark": {"type": "area", "color": "#bed3ec", "opacity": 1, "interpolate": "linear", "clip": true}, "encoding": {"x": {"field": "x", "type": "quantitative", "scale": {"domain": [0,1], "range": [145,506], "nice": false, "zero": false}, "axis": {"orient": "bottom", "offset": -107, "values": [0,0.5], "format": "~g", "labelPadding": 5, "title": "Recall", "titlePadding": 1, "labelAlign": {"condition": {"test": "datum.value == 0", "value": "right"}, "value": "center"}, "labelOffset": {"condition": {"test": "datum.value == 0", "value": -10}, "value": 0}}}, "y": {"field": "y", "type": "quantitative", "stack": null, "scale": {"domain": [0,1], "range": [491,131], "nice": false, "zero": false}, "axis": {"orient": "left", "offset": -145, "values": [0.5,1], "format": "~g", "labelPadding": 9, "title": "Precision", "titlePadding": 5}}, "order": {"value": null}}},
    {"data": {"name": "pr_c2"}, "mark": {"type": "line", "color": "black", "strokeWidth": 1, "interpolate": "linear", "clip": true}, "encoding": {"x": {"field": "x", "type": "quantitative", "scale": {"domain": [0,1], "range": [145,506], "nice": false, "zero": false}}, "y": {"field": "y", "type": "quantitative", "scale": {"domain": [0,1], "range": [491,131], "nice": false, "zero": false}}, "order": {"value": null}}},
    {"data": {"values": [{}]}, "mark": {"type": "rect", "fill": null, "stroke": "black", "strokeWidth": 1.5, "clip": true}, "encoding": {"x": {"datum": 0, "type": "quantitative", "scale": {"domain": [0,1], "range": [145,506], "nice": false, "zero": false}}, "x2": {"datum": 1}, "y": {"datum": 0, "type": "quantitative", "scale": {"domain": [0,1], "range": [491,131], "nice": false, "zero": false}}, "y2": {"datum": 1}}}
   ]},
  {"width": 500, "height": 520, "view": {"stroke": null, "fill": {"gradient": "linear", "stops": [{"offset": 0, "color": "#114874"}, {"offset": 1, "color": "#0d3a5f"}]}},
   "title": {"text": "AUROC = 0.812", "offset": -63, "dx": 80},
   "layer": [
    {"data": {"values": [{}]}, "mark": {"type": "rect", "fill": "white", "clip": true}, "encoding": {"x": {"datum": 0, "type": "quantitative", "scale": {"domain": [0,1], "range": [145,506], "nice": false, "zero": false}}, "x2": {"datum": 1}, "y": {"datum": 0, "type": "quantitative", "scale": {"domain": [0,1], "range": [432,71], "nice": false, "zero": false}}, "y2": {"datum": 1}}},
    {"data": {"values": [{}]}, "mark": {"type": "rule", "color": "black", "strokeWidth": 1.5, "clip": true}, "encoding": {"x": {"datum": 0.5, "type": "quantitative", "scale": {"domain": [0,1], "range": [145,506], "nice": false, "zero": false}}, "y": {"datum": 1, "type": "quantitative", "scale": {"domain": [0,1], "range": [432,71], "nice": false, "zero": false}}, "y2": {"datum": 0.978}}},
    {"data": {"values": [{}]}, "mark": {"type": "rule", "color": "black", "strokeWidth": 1.5, "clip": true}, "encoding": {"x": {"datum": 0.5, "type": "quantitative", "scale": {"domain": [0,1], "range": [145,506], "nice": false, "zero": false}}, "y": {"datum": 0, "type": "quantitative", "scale": {"domain": [0,1], "range": [432,71], "nice": false, "zero": false}}, "y2": {"datum": 0.022}}},
    {"data": {"values": [{}]}, "mark": {"type": "rule", "color": "black", "strokeWidth": 1.5, "clip": true}, "encoding": {"x": {"datum": 0, "type": "quantitative", "scale": {"domain": [0,1], "range": [145,506], "nice": false, "zero": false}}, "x2": {"datum": 0.022}, "y": {"datum": 0.5, "type": "quantitative", "scale": {"domain": [0,1], "range": [432,71], "nice": false, "zero": false}}}},
    {"data": {"values": [{}]}, "mark": {"type": "rule", "color": "black", "strokeWidth": 1.5, "clip": true}, "encoding": {"x": {"datum": 1, "type": "quantitative", "scale": {"domain": [0,1], "range": [145,506], "nice": false, "zero": false}}, "x2": {"datum": 0.978}, "y": {"datum": 0.5, "type": "quantitative", "scale": {"domain": [0,1], "range": [432,71], "nice": false, "zero": false}}}},
    {"data": {"name": "roc_c2"}, "mark": {"type": "area", "color": "#bed3ec", "opacity": 1, "interpolate": "step-after", "clip": true}, "encoding": {"x": {"field": "x", "type": "quantitative", "scale": {"domain": [0,1], "range": [145,506], "nice": false, "zero": false}, "axis": {"orient": "bottom", "offset": -88, "values": [0,0.5], "format": "~g", "labelPadding": 5, "title": "False Positive Rate", "titlePadding": 1, "labelAlign": {"condition": {"test": "datum.value == 0", "value": "right"}, "value": "center"}, "labelOffset": {"condition": {"test": "datum.value == 0", "value": -10}, "value": 0}}}, "y": {"field": "y", "type": "quantitative", "stack": null, "scale": {"domain": [0,1], "range": [432,71], "nice": false, "zero": false}, "axis": {"orient": "left", "offset": -145, "values": [0.5,1], "format": "~g", "labelPadding": 9, "title": "True Positive Rate", "titlePadding": 5}}, "order": {"value": null}}},
    {"data": {"name": "roc_c2"}, "mark": {"type": "line", "color": "black", "strokeWidth": 1, "interpolate": "step-after", "clip": true}, "encoding": {"x": {"field": "x", "type": "quantitative", "scale": {"domain": [0,1], "range": [145,506], "nice": false, "zero": false}}, "y": {"field": "y", "type": "quantitative", "scale": {"domain": [0,1], "range": [432,71], "nice": false, "zero": false}}, "order": {"value": null}}},
    {"data": {"values": [{}]}, "mark": {"type": "rect", "fill": null, "stroke": "black", "strokeWidth": 1.5, "clip": true}, "encoding": {"x": {"datum": 0, "type": "quantitative", "scale": {"domain": [0,1], "range": [145,506], "nice": false, "zero": false}}, "x2": {"datum": 1}, "y": {"datum": 0, "type": "quantitative", "scale": {"domain": [0,1], "range": [432,71], "nice": false, "zero": false}}, "y2": {"datum": 1}}}
   ]}
]}
]
}
